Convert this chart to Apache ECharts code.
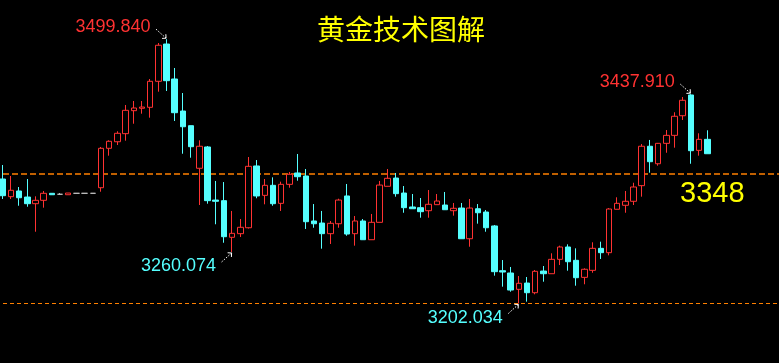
<!DOCTYPE html>
<html>
<head>
<meta charset="utf-8">
<script src="https://cdn.jsdelivr.net/npm/echarts@6/dist/echarts.min.js"></script>
<style>
html,body{margin:0;padding:0;background:#000;}
#c{width:779px;height:363px;}
</style>
</head>
<body>
<div id="c"></div>
<script>
// ---- data ----
const opens = [3342.3,3322.4,3328.8,3322.0,3314.5,3318.3,3326.2,3325.1,3324.6,3326.2,3326.2,3326.2,
3332.5,3376.9,3384.3,3393.4,3419.3,3422.0,3423.1,3452.4,3494.4,3455.0,3418.9,3402.4,3354.4,3378.4,
3318.6,3317.9,3276.6,3280.7,3287.4,3357.0,3323.9,3335.2,3314.9,3336.3,3349.1,3345.7,3295.0,3292.7,
3280.7,3291.9,3323.2,3280.7,3295.0,3273.9,3293.5,3334.1,3343.4,3326.5,3310.8,3310.0,3306.6,3313.4,
3313.0,3306.6,3309.6,3275.0,3308.8,3305.1,3289.4,3239.0,3236.4,3218.0,3225.1,3214.2,3238.6,3235.6,
3251.8,3265.7,3250.7,3231.5,3239.4,3264.2,3259.3,3308.2,3312.7,3317.2,3334.8,3379.2,3359.5,3382.5,
3391.5,3413.6,3437.0,3374.6,3387.0];
const closes = [3323.5,3329.6,3321.2,3314.5,3318.3,3326.2,3324.6,3325.1,3326.5,3326.2,3326.2,3326.2,
3376.9,3384.8,3393.8,3419.7,3422.3,3423.4,3452.4,3493.0,3453.1,3417.0,3401.2,3378.7,3379.2,3317.9,
3317.2,3277.3,3281.1,3287.9,3356.6,3323.2,3335.2,3314.5,3336.3,3347.6,3344.9,3294.2,3291.9,3280.7,
3292.4,3318.6,3280.3,3295.0,3273.9,3293.5,3335.5,3343.1,3325.8,3310.0,3308.8,3305.5,3313.8,3317.5,
3307.7,3309.3,3275.0,3309.6,3304.3,3287.4,3237.9,3237.5,3217.2,3224.8,3214.2,3238.3,3235.6,3251.8,
3265.7,3249.1,3231.1,3240.6,3264.2,3259.3,3308.5,3314.9,3317.2,3333.3,3379.2,3361.8,3382.5,3391.5,
3413.0,3431.0,3374.2,3387.0,3370.8];
const lows = [3319.8,3319.8,3312.2,3311.1,3282.9,3310.0,3324.6,3324.3,3324.6,3326.2,3326.2,3326.2,
3328.0,3368.6,3380.6,3385.5,3404.6,3415.9,3411.4,3440.7,3441.5,3407.7,3370.8,3366.3,3313.0,3314.5,
3291.3,3270.5,3260.074,3277.0,3286.5,3320.6,3313.8,3312.2,3306.3,3332.5,3340.4,3286.0,3287.4,3263.8,
3269.1,3287.4,3278.4,3267.2,3273.9,3273.9,3293.5,3334.1,3322.4,3304.3,3308.8,3298.7,3298.7,3313.4,
3307.7,3301.0,3275.0,3266.0,3292.0,3282.9,3233.4,3221.0,3215.3,3202.034,3204.1,3212.4,3226.6,3235.6,
3245.4,3239.0,3222.1,3223.7,3236.7,3252.2,3256.3,3308.2,3304.3,3313.0,3322.4,3349.4,3357.3,3371.9,
3377.6,3408.8,3359.5,3368.6,3370.8];
const highs = [3358.1,3345.7,3333.3,3342.3,3322.8,3328.8,3326.2,3326.5,3326.5,3326.2,3326.2,3326.2,
3378.4,3385.9,3396.1,3425.7,3430.2,3430.2,3455.0,3495.5,3499.84,3467.4,3439.2,3402.4,3385.9,3379.5,
3340.1,3338.9,3306.3,3297.2,3367.1,3363.7,3342.3,3344.2,3339.3,3350.2,3370.5,3353.6,3314.1,3306.3,
3295.0,3320.1,3336.7,3300.6,3297.2,3302.9,3340.1,3353.6,3349.1,3334.4,3325.4,3320.9,3329.9,3325.4,
3327.7,3315.3,3315.3,3319.8,3314.1,3307.4,3290.5,3251.0,3243.2,3233.0,3231.9,3239.8,3244.3,3258.6,
3267.2,3268.7,3264.2,3241.7,3271.0,3271.7,3309.5,3321.7,3328.8,3338.1,3381.7,3386.3,3382.9,3397.5,
3417.5,3434.7,3437.91,3393.8,3397.2];
const slotCount = 95;
const categories = Array.from({length: slotCount}, (_, i) => String(i + 1));
const titleText = '黄金技术图解';
const levelPrice = 3348;
const levelText = '3348';
const lowLevelPrice = 3202.034;
const annotIndex = [20, 84, 28, 63];
const annotPrice = [3499.84, 3437.91, 3260.074, 3202.034];
const annotText = ['3499.840', '3437.910', '3260.074', '3202.034'];
const annotSide = ['high', 'high', 'low', 'low'];

// ---- chart ----
const RED = '#ff3232', CYAN = '#55ffff';
const chart = echarts.init(document.getElementById('c'));
const data = opens.map((o, i) => [o, closes[i], lows[i], highs[i]]);
chart.setOption({
  backgroundColor: '#000000',
  animation: false,
  grid: {left: 2.7, right: 6.2, top: 0, bottom: 0},
  xAxis: {type: 'category', data: categories, show: false, boundaryGap: false},
  yAxis: {type: 'value', min: 3135, max: 3544, show: false, splitLine: {show: false}},
  series: [{
    type: 'candlestick',
    data: data,
    barWidth: 6,
    clip: false,
    itemStyle: {
      color: '#000000', color0: CYAN,
      borderColor: RED, borderColor0: CYAN,
      borderColorDoji: '#c0c0c0', borderWidth: 1
    }
  }]
});

function toPx(i, p) { return chart.convertToPixel({gridIndex: 0}, [i, p]); }

const graphics = [];
// horizontal dashed level lines across the full width
const yLevel = toPx(0, levelPrice)[1];
const yLow = Math.floor(toPx(0, lowLevelPrice)[1]) + 0.5;
graphics.push({type: 'line', shape: {x1: 0, y1: yLevel, x2: 779, y2: yLevel},
  style: {stroke: '#ff8000', lineWidth: 1.5, lineDash: [6, 3], lineDashOffset: -3}});
graphics.push({type: 'line', shape: {x1: 0, y1: yLow, x2: 779, y2: yLow},
  style: {stroke: '#ff8000', lineWidth: 1, lineDash: [4, 3], lineDashOffset: -3}});

graphics.push({
  type: 'text', x: 401, y: 29,
  style: {text: titleText, fill: '#ffff00', fontSize: 28, fontFamily: '"Noto Sans CJK SC"',
          align: 'center', verticalAlign: 'middle'}
});
graphics.push({
  type: 'text', x: 680, y: yLevel + 20,
  style: {text: levelText, fill: '#ffff00', fontSize: 29, fontFamily: '"Liberation Sans", Arial',
          align: 'left', verticalAlign: 'middle'}
});

function arrow(tail, tip) {
  const dx = tip[0] - tail[0], dy = tip[1] - tail[1];
  const len = Math.hypot(dx, dy);
  const ux = dx / len, uy = dy / len;
  const L = 4, c = Math.cos(Math.PI / 4), s = Math.sin(Math.PI / 4);
  const a1 = [tip[0] - L * (ux * c - uy * s), tip[1] - L * (ux * s + uy * c)];
  const a2 = [tip[0] - L * (ux * c + uy * s), tip[1] - L * (-ux * s + uy * c)];
  graphics.push({type: 'line', shape: {x1: tail[0], y1: tail[1], x2: tip[0], y2: tip[1]},
    style: {stroke: '#ffffff', lineWidth: 1, lineDash: [1.5, 1.5]}});
  graphics.push({type: 'polyline', shape: {points: [a1, tip, a2]},
    style: {stroke: '#ffffff', lineWidth: 1, fill: null}});
}

annotIndex.forEach((idx, k) => {
  const p = toPx(idx, annotPrice[k]);
  const isHigh = annotSide[k] === 'high';
  if (isHigh) {
    arrow([p[0] - 10.5, p[1] - 10], [p[0] - 0.5, p[1] - 1]);
    graphics.push({type: 'text', x: p[0] - 16, y: p[1] - 12.5,
      style: {text: annotText[k], fill: RED, fontSize: 18, fontFamily: '"Liberation Sans", Arial',
              align: 'right', verticalAlign: 'middle'}});
  } else {
    arrow([p[0] - 10.5, p[1] + 10], [p[0] - 0.5, p[1] + 1]);
    graphics.push({type: 'text', x: p[0] - 16, y: p[1] + 14.5,
      style: {text: annotText[k], fill: CYAN, fontSize: 18, fontFamily: '"Liberation Sans", Arial',
              align: 'right', verticalAlign: 'middle'}});
  }
});
chart.setOption({graphic: graphics});
</script>
</body>
</html>
